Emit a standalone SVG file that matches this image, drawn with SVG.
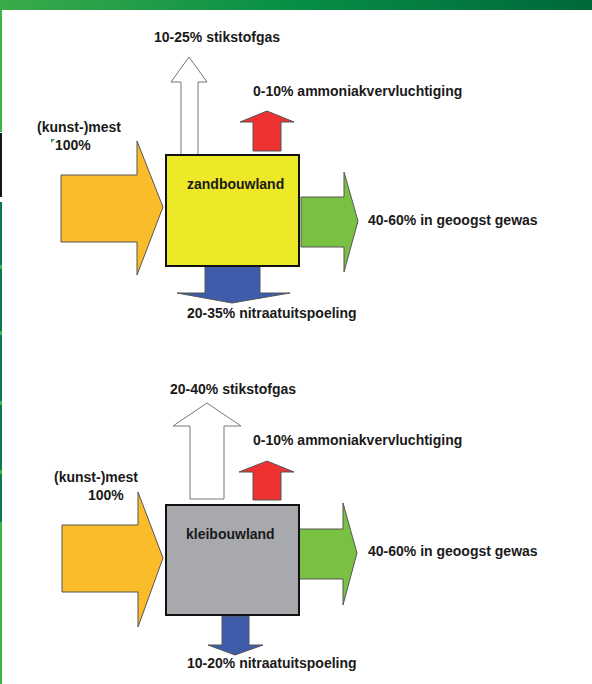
<svg xmlns="http://www.w3.org/2000/svg" width="592" height="684" viewBox="0 0 592 684">
<defs>
<linearGradient id="topbar" x1="0" y1="0" x2="1" y2="0">
<stop offset="0" stop-color="#3aab4a"/>
<stop offset="0.5" stop-color="#068e46"/>
<stop offset="1" stop-color="#00683a"/>
</linearGradient>
</defs>
<style>
text{font-family:"Liberation Sans",Arial,sans-serif;font-size:14px;font-weight:bold;fill:#1a1a1a}
.box{stroke:#111;stroke-width:2}
.arr{stroke:#555;stroke-width:1;stroke-linejoin:miter}
.wht{fill:#fff;stroke:#777}
.org{fill:#fbbc2b}
.red{fill:#ee3131}
.grn{fill:#7ac143}
.blu{fill:#3e5ca9}
</style>
<rect width="592" height="684" fill="#fff"/>
<rect x="0" y="0" width="592" height="10" fill="url(#topbar)"/>
<g id="sidebar">
<rect x="0" y="10" width="2" height="122" fill="#39b54a"/>
<rect x="0" y="133" width="2" height="64" fill="#111a10"/>
<rect x="0" y="202" width="2" height="320" fill="#0b7a4e"/>
<rect x="0" y="265" width="2" height="4" fill="#3db54a"/>
<rect x="0" y="331" width="2" height="4" fill="#3db54a"/>
<rect x="0" y="401" width="2" height="4" fill="#3db54a"/>
<rect x="0" y="470" width="2" height="4" fill="#3db54a"/>
<rect x="0" y="522" width="2" height="162" fill="#39b54a"/>
</g>
<g id="connectors">
<polygon class="arr org" points="61,175 137,175 137,141 163,207 137,275 137,242 61,242"/>
<polygon class="arr wht" points="181,155 181,82 171,82 189,57 207,82 198,82 198,155"/>
<polygon class="arr red" points="253,151 253,122 240,122 267,111 294,122 281,122 281,151"/>
<polygon class="arr grn" points="301,197 344,197 344,172 358,221 344,272 344,247 301,247"/>
<polygon class="arr blu" points="205,266 260,266 260,293 290,293 232,303 177,293 205,293"/>
<polygon class="arr org" points="62,525 138,525 138,492 163,558 138,627 138,592 62,592"/>
<polygon class="arr wht" points="190,499 190,426 173,426 207,403 241,426 224,426 224,499"/>
<polygon class="arr red" points="253,500 253,472 239,472 267,461 294,472 281,472 281,500"/>
<polygon class="arr grn" points="299,529 343,529 343,503 357,553 343,605 343,579 299,579"/>
<polygon class="arr blu" points="222,616 249,616 249,645 263,645 235,655 208,645 222,645"/>
</g>
<g id="zandbouwland">
<rect class="box" x="166" y="155" width="133" height="111" fill="#ede828"/>
<text x="187" y="189">zandbouwland</text>
</g>
<g id="kleibouwland">
<rect class="box" x="166" y="505" width="133" height="110" fill="#a7a9ac"/>
<text x="186" y="539">kleibouwland</text>
</g>
<g id="labels-top">
<text x="154" y="42">10-25% stikstofgas</text>
<text x="253" y="96">0-10% ammoniakvervluchtiging</text>
<text x="37" y="132">(kunst-)mest</text>
<polygon points="51,143 51,139 55,139" fill="#2a9a6a"/>
<text x="55" y="150">100%</text>
<text x="368" y="225">40-60% in geoogst gewas</text>
<text x="187" y="318">20-35% nitraatuitspoeling</text>
</g>
<g id="labels-bottom">
<text x="170" y="394">20-40% stikstofgas</text>
<text x="253" y="445">0-10% ammoniakvervluchtiging</text>
<text x="54" y="482">(kunst-)mest</text>
<text x="88" y="500">100%</text>
<text x="368" y="556">40-60% in geoogst gewas</text>
<text x="187" y="668">10-20% nitraatuitspoeling</text>
</g>
</svg>
